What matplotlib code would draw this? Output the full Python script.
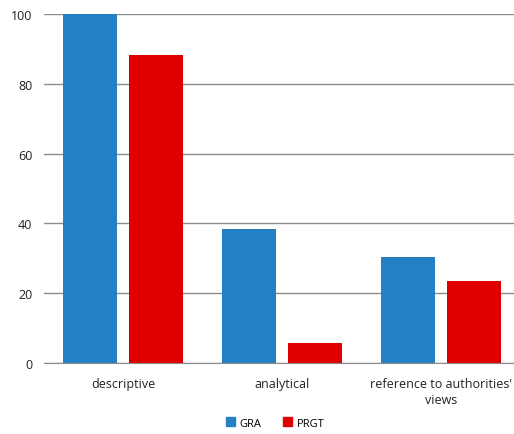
import matplotlib
matplotlib.use('Agg')
import matplotlib.pyplot as plt
import numpy as np
from matplotlib.patches import Patch

# data
categories = ['descriptive', 'analytical', "reference to authorities'\nviews"]
gra = [100, 38.3, 30.5]
prgt = [88.2, 5.8, 23.5]
yticks = [0, 20, 40, 60, 80, 100]

blue = '#2580c3'
red = '#e00000'

plt.rcParams['font.family'] = ['Open Sans', 'DejaVu Sans']

fig = plt.figure(figsize=(5.14, 4.35), dpi=100)
ax = fig.add_axes([43.5/514, 1 - 364/435, 1 - 43.5/514, (364 - 15)/435])

x = np.arange(len(categories))
w = 0.34
off = 0.2075
ax.bar(x - off, gra, w, color=blue, zorder=3)
ax.bar(x + off, prgt, w, color=red, zorder=3)

ax.set_ylim(0, 100)
ax.set_xlim(-0.5, 2.459)
ax.set_yticks(yticks)
ax.yaxis.grid(True, color='#8c8c8c', linewidth=1)
ax.set_axisbelow(True)
for s in ['left', 'right', 'top']:
    ax.spines[s].set_visible(False)
ax.spines['bottom'].set_color('#8c8c8c')
ax.tick_params(axis='y', length=0, pad=8, labelsize=9, labelcolor='#222222')
ax.tick_params(axis='x', length=0, pad=10, labelsize=9, labelcolor='#222222')
ax.set_xticks(x)
ax.set_xticklabels(categories, linespacing=1.35)

handles = [Patch(color=blue, label='GRA'), Patch(color=red, label='PRGT')]
fig.legend(handles=handles, loc='center', bbox_to_anchor=(0.535, 1 - 424/435),
           ncol=2, frameon=False, fontsize=8, handlelength=0.8, handleheight=0.8,
           handletextpad=0.4, columnspacing=2.0)

fig.savefig('out.png', dpi=100)
